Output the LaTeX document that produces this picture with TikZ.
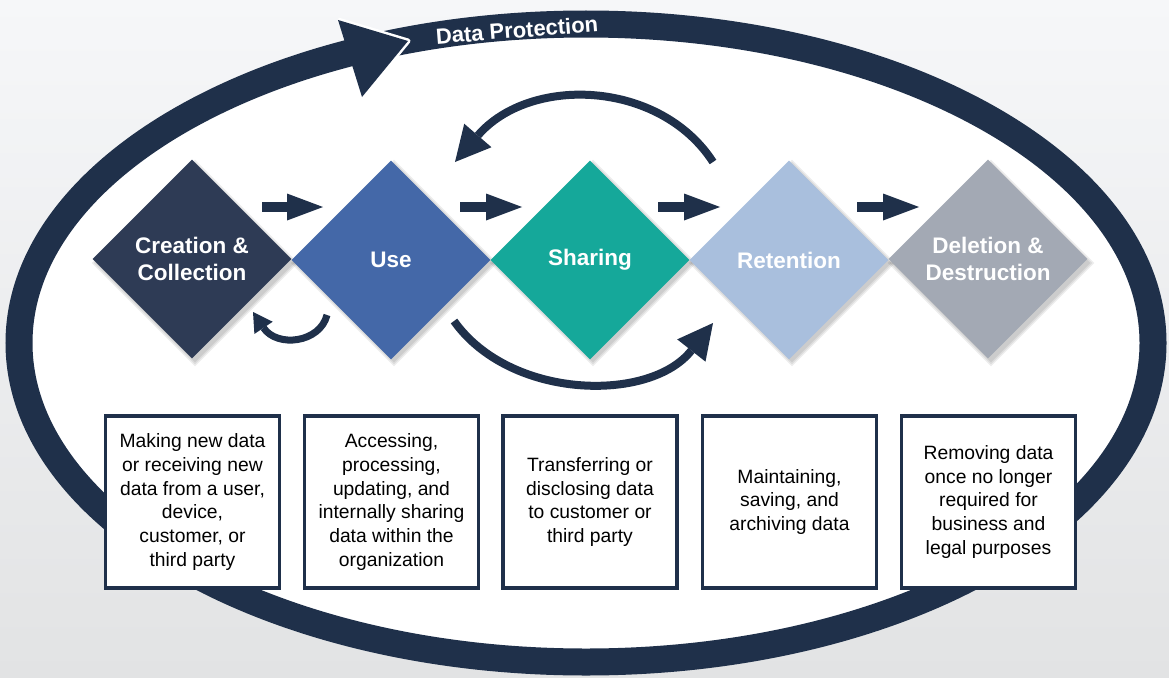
\documentclass[tikz,border=0pt]{standalone}
\usepackage{fontspec}
\setmainfont{Liberation Sans}
\usetikzlibrary{shapes.geometric,arrows.meta}
\definecolor{navy}{HTML}{1F304A}
\definecolor{bgtop}{HTML}{F6F7F9}
\definecolor{bgbot}{HTML}{E2E3E4}
\definecolor{ccreate}{HTML}{2E3B55}
\definecolor{cuse}{HTML}{4468A8}
\definecolor{cshare}{HTML}{15A89A}
\definecolor{cretain}{HTML}{A9BFDD}
\definecolor{cdelete}{HTML}{A3A9B4}
\begin{document}
\begin{tikzpicture}[x=1pt,y=-1pt,
  dia/.style={diamond, minimum width=199pt, minimum height=199pt, inner sep=0pt, aspect=1,
    text=white, font=\fontsize{22.5}{27}\selectfont\bfseries, align=center},
  diashadow/.style={diamond, minimum width=#1, minimum height=#1, inner sep=0pt, aspect=1,
    fill=black, fill opacity=0.07},
  descbox/.style={draw=navy, line width=3.5pt, fill=white, minimum width=174pt, minimum height=172pt,
    inner sep=0pt, align=center, font=\fontsize{19.3}{23.8}\selectfont},
  flow/.style={navy, line width=10pt, -{Triangle[length=36pt,width=27pt,line width=0pt]}},
  loopbig/.style={navy, line width=8pt, -{Triangle[length=35pt,width=36pt,line width=0pt]}},
  loopsmall/.style={navy, line width=7pt, -{Triangle[length=19pt,width=22pt,line width=0pt]}}
]
\useasboundingbox (0,0) rectangle (1169,677);
\shade[top color=bgtop,bottom color=bgbot] (0,0) rectangle (1169,677);

% outer protection ring
\draw[navy,line width=27pt,fill=white] (586,343) ellipse [x radius=567pt,y radius=319pt];
\draw[white,line width=5pt,line join=round] (338,20) -- (408,41) -- (362,97);
\fill[navy] (338,20) -- (408,41) -- (362,97) -- cycle;
\node (dp) [rotate=4.5, text=white, font=\fontsize{22}{26}\selectfont\bfseries] at (517,30) {Data Protection};

% shadows
\foreach \cx in {192,391,590,789,988}{
  \foreach \s in {199,203,207}{
    \node[diashadow=\s pt] at (\cx+3,263) {};
  }
}

% diamonds
\node (create) [dia, fill=ccreate] at (192,259) {Creation \&\\Collection};
\node (use)    [dia, fill=cuse]    at (391,260) {Use};
\node (share)  [dia, fill=cshare]  at (590,260) {Sharing};
\node (retain) [dia, fill=cretain] at (789,260) {Retention};
\node (delete) [dia, fill=cdelete] at (988,259) {Deletion \&\\Destruction};

% straight arrows
\coordinate (a1s) at (262,207); \coordinate (a1e) at (323,207);
\coordinate (a2s) at (460,207); \coordinate (a2e) at (522,207);
\coordinate (a3s) at (658,207); \coordinate (a3e) at (720,207);
\coordinate (a4s) at (857,207); \coordinate (a4e) at (919,207);
\draw[flow] (a1s) -- (a1e);
\draw[flow] (a2s) -- (a2e);
\draw[flow] (a3s) -- (a3e);
\draw[flow] (a4s) -- (a4e);

% curved arrows
\coordinate (topS) at (713,162); \coordinate (topE) at (455,162);
\draw[loopbig] (topS) .. controls (660,80) and (530,75) .. (topE);
\coordinate (botS) at (454,321); \coordinate (botE) at (713,323);
\draw[loopbig] (botS) .. controls (510,400) and (650,403) .. (botE);
\coordinate (smS) at (327,315); \coordinate (smE) at (253,312);
\draw[loopsmall] (smS) .. controls (320,343) and (277,348) .. (smE);

% description boxes
\node (b1) [descbox] at (192.5,502) {Making new data\\or receiving new\\data from a user,\\device,\\customer, or\\third party};
\node (b2) [descbox] at (391.5,502) {Accessing,\\processing,\\updating, and\\internally sharing\\data within the\\organization};
\node (b3) [descbox] at (590,502) {Transferring or\\disclosing data\\to customer or\\third party};
\node (b4) [descbox] at (789.5,502) {Maintaining,\\saving, and\\archiving data};
\node (b5) [descbox] at (988.5,502) {Removing data\\once no longer\\required for\\business and\\legal purposes};
\end{tikzpicture}
\end{document}
